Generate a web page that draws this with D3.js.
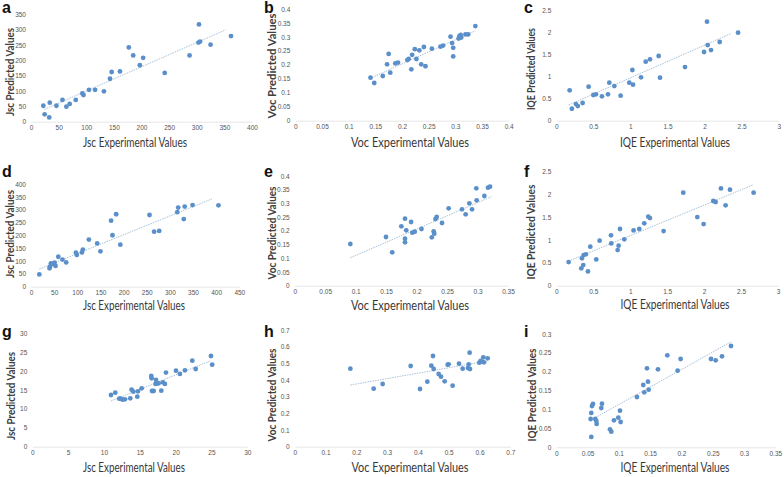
<!DOCTYPE html>
<html><head><meta charset="utf-8">
<script src="https://cdn.jsdelivr.net/npm/d3@7"></script>
<style>body{margin:0;background:#fff}svg{display:block}</style>
</head><body>
<script>
// ---------- DATA ----------
const aX=[22.3,24.7,33,34,46,57,64,70,81,93,95,105,116,132,143,146,161,177,185,197,203,242,287,303,304,306,325,362];
const aY=[52,24,14,62,52,71,49,58,71,92,87,104,104,99,140,162,164,242,216,184,208,159,216,258,317,261,251,279];
const aTrendX=[24,352], aTrendY=[40,299];
const aXTicks=[0,50,100,150,200,250,300,350,400], aYTicks=[0,50,100,150,200,250,300,350];

const bX=[0.141,0.148,0.164,0.172,0.175,0.178,0.1875,0.1925,0.21,0.2125,0.2175,0.219,0.224,0.227,0.2325,0.236,0.241,0.244,0.256,0.272,0.277,0.291,0.294,0.296,0.296,0.306,0.3075,0.31,0.311,0.319,0.324,0.3375];
const bY=[0.154,0.135,0.160,0.202,0.239,0.172,0.205,0.208,0.217,0.221,0.184,0.236,0.256,0.221,0.252,0.202,0.264,0.195,0.258,0.265,0.269,0.301,0.278,0.261,0.230,0.294,0.303,0.307,0.298,0.309,0.309,0.339];
const bTrendX=[0.144,0.3375], bTrendY=[0.155,0.322];
const bXTicks=[0,0.05,0.1,0.15,0.2,0.25,0.3,0.35,0.4], bYTicks=[0,0.05,0.1,0.15,0.2,0.25,0.3,0.35,0.4];

const cX=[0.18,0.21,0.265,0.29,0.355,0.436,0.50,0.535,0.616,0.697,0.715,0.783,0.868,0.985,1.026,1.035,1.143,1.206,1.264,1.381,1.399,1.736,1.993,2.033,2.042,2.087,2.204,2.452];
const cY=[0.685,0.27,0.376,0.33,0.40,0.768,0.58,0.595,0.55,0.595,0.858,0.783,0.565,0.858,1.145,0.813,0.979,1.333,1.386,1.461,0.971,1.212,1.551,2.236,1.709,1.596,1.777,1.988];
const cTrendX=[0.166,2.362], cTrendY=[0.354,1.973];
const cXTicks=[0,0.5,1,1.5,2,2.5,3], cYTicks=[0,0.5,1,1.5,2,2.5];

const dX=[18,40,41,43,47,51,53,59,68,76,97,99,110,112,125,143,150,173,176,184,193,256,266,277,316,318,330,332,349,405];
const dY=[48,72,78,91,89,94,81,117,106,95,133,124,134,145,184,169,138,258,201,283,164,280,215,218,291,309,264,313,319,318];
const dTrendX=[18,391], dTrendY=[69,343];
const dXTicks=[0,50,100,150,200,250,300,350,400,450], dYTicks=[0,50,100,150,200,250,300,350,400];

const eX=[0.0913,0.1498,0.160,0.175,0.181,0.181,0.181,0.183,0.191,0.193,0.197,0.208,0.225,0.228,0.229,0.231,0.233,0.2417,0.2526,0.2745,0.2805,0.2866,0.291,0.298,0.2986,0.3112,0.3172,0.3205];
const eY=[0.152,0.1775,0.1216,0.2164,0.2444,0.1714,0.158,0.2018,0.2322,0.1933,0.197,0.2067,0.1763,0.198,0.1897,0.243,0.2505,0.2286,0.282,0.2784,0.2602,0.3003,0.2784,0.355,0.3112,0.327,0.3574,0.3611];
const eTrendX=[0.0913,0.3227], eTrendY=[0.102,0.3246];
const eXTicks=[0,0.05,0.1,0.15,0.2,0.25,0.3,0.35], eYTicks=[0,0.05,0.1,0.15,0.2,0.25,0.3,0.35,0.4];

const fX=[0.167,0.338,0.347,0.365,0.37,0.40,0.428,0.46,0.541,0.586,0.74,0.744,0.83,0.843,0.862,0.92,1.046,1.123,1.19,1.245,1.267,1.452,1.718,1.908,1.994,2.124,2.156,2.228,2.291,2.35,2.67];
const fY=[0.519,0.38,0.60,0.453,0.672,0.687,0.314,0.855,0.577,0.987,1.104,0.928,0.782,0.877,1.243,1.016,1.213,1.243,1.367,1.513,1.484,1.199,2.04,1.506,1.352,1.857,1.835,2.134,1.762,2.105,2.04];
const fTrendX=[0.167,2.67], fTrendY=[0.541,2.215];
const fXTicks=[0,0.5,1,1.5,2,2.5,3], fYTicks=[0,0.5,1,1.5,2,2.5];

const gX=[10.98,11.58,12.14,12.33,12.6,12.93,13.67,13.86,14.1,14.65,14.74,15.26,16.6,16.65,16.7,16.93,17.2,17.26,17.44,17.63,18.0,18.23,18.5,18.65,20.05,20.6,21.3,22.33,22.8,24.93,25.1];
const gY=[13.68,14.3,12.7,12.7,12.44,12.53,12.8,15.09,14.56,13.24,14.65,15.45,18.7,18.1,14.74,14.74,16.6,17.65,16.77,16.77,14.83,17.03,16.6,19.6,20.1,19.24,20.2,22.77,20.56,24.0,21.7];
const gTrendX=[10.98,24.93], gTrendY=[12.09,22.77];
const gXTicks=[0,5,10,15,20,25,30], gYTicks=[0,5,10,15,20,25,30];

const hX=[0.1807,0.2564,0.2856,0.3765,0.4068,0.4306,0.4436,0.449,0.4512,0.4674,0.475,0.4869,0.4966,0.4998,0.5128,0.5334,0.5453,0.5626,0.5648,0.568,0.5691,0.5994,0.6037,0.608,0.6124,0.6145,0.6264];
const hY=[0.468,0.348,0.376,0.484,0.346,0.39,0.486,0.544,0.466,0.436,0.42,0.392,0.492,0.494,0.366,0.498,0.468,0.472,0.494,0.564,0.466,0.504,0.514,0.51,0.536,0.506,0.53];
const hTrendX=[0.1807,0.6253], hTrendY=[0.37,0.514];
const hXTicks=[0,0.1,0.2,0.3,0.4,0.5,0.6,0.7], hYTicks=[0,0.1,0.2,0.3,0.4,0.5,0.6,0.7];

const iX=[0.0549,0.0559,0.0559,0.057,0.0586,0.0623,0.0639,0.0645,0.0719,0.073,0.0858,0.0879,0.0922,0.0991,0.1018,0.1028,0.1289,0.139,0.1406,0.1449,0.1465,0.1476,0.1625,0.1774,0.1939,0.1987,0.2472,0.2547,0.2648,0.2792];
const iY=[0.075,0.0274,0.0909,0.1094,0.1147,0.075,0.0697,0.0618,0.1041,0.1156,0.0476,0.0415,0.0715,0.0785,0.097,0.067,0.1332,0.165,0.1456,0.2091,0.1738,0.1526,0.2065,0.2435,0.203,0.2338,0.2338,0.2303,0.2409,0.2682];
const iTrendX=[0.0623,0.2797], iTrendY=[0.0785,0.2797];
const iXTicks=[0,0.05,0.1,0.15,0.2,0.25,0.3,0.35], iYTicks=[0,0.05,0.1,0.15,0.2,0.25,0.3];

const letters=["a","b","c","d","e","f","g","h","i"];
const xTitles=["Jsc Experimental Values","Voc Experimental Values","IQE Experimental Values"];
const yTitles=["Jsc Predicted Values","Voc Predicted Values","IQE Predicted Values"];

// ---------- LAYOUT (pixel frames, separate from data) ----------
const frames=[
 {x0:31,x1:252,y0:121.7,y1:14.3, xt:[135,147,104], yt:[9,72,88], lt:[2,13]},
 {x0:295.3,x1:508.7,y0:120.7,y1:9, xt:[410,147,118], yt:[271,66,105], lt:[264,13]},
 {x0:556.3,x1:778.7,y0:120.7,y1:10, xt:[675,147,110], yt:[530,69,82], lt:[524,13]},
 {x0:31,x1:239.3,y0:286.7,y1:184.3, xt:[134,310,102], yt:[9,234,88], lt:[2,177]},
 {x0:294.7,x1:508,y0:285.7,y1:176, xt:[410,310,118], yt:[271,233,93], lt:[264,177]},
 {x0:556.3,x1:778,y0:285.7,y1:171.7, xt:[675,309,109], yt:[530,232,95], lt:[524,177]},
 {x0:32.3,x1:247.3,y0:446.7,y1:333.3, xt:[134,472,102], yt:[10,396,88], lt:[2,337]},
 {x0:294.7,x1:510.3,y0:446.7,y1:330, xt:[410,472,117], yt:[271,395,93], lt:[264,337]},
 {x0:556.3,x1:775.3,y0:447.3,y1:334, xt:[675,472,109], yt:[531,395,93], lt:[524,337]}
];

const panels=[
 {x:aX,y:aY,tx:aTrendX,ty:aTrendY,xt:aXTicks,yt:aYTicks},
 {x:bX,y:bY,tx:bTrendX,ty:bTrendY,xt:bXTicks,yt:bYTicks},
 {x:cX,y:cY,tx:cTrendX,ty:cTrendY,xt:cXTicks,yt:cYTicks},
 {x:dX,y:dY,tx:dTrendX,ty:dTrendY,xt:dXTicks,yt:dYTicks},
 {x:eX,y:eY,tx:eTrendX,ty:eTrendY,xt:eXTicks,yt:eYTicks},
 {x:fX,y:fY,tx:fTrendX,ty:fTrendY,xt:fXTicks,yt:fYTicks},
 {x:gX,y:gY,tx:gTrendX,ty:gTrendY,xt:gXTicks,yt:gYTicks},
 {x:hX,y:hY,tx:hTrendX,ty:hTrendY,xt:hXTicks,yt:hYTicks},
 {x:iX,y:iY,tx:iTrendX,ty:iTrendY,xt:iXTicks,yt:iYTicks}
];

const svg=d3.select("body").append("svg").attr("width",784).attr("height",477);
const fontT="Lato, 'Open Sans', sans-serif";
const dotColor="#5b8fc9";

panels.forEach((p,k)=>{
  const fr=frames[k];
  const col=k%3;
  const xs=d3.scaleLinear().domain([0,d3.max(p.xt)]).range([fr.x0,fr.x1]);
  const ys=d3.scaleLinear().domain([0,d3.max(p.yt)]).range([fr.y0,fr.y1]);
  const g=svg.append("g");
  const fmt=v=>String(+v.toFixed(3));

  const xa=g.append("g").attr("transform",`translate(0,${fr.y0})`)
    .call(d3.axisBottom(xs).tickValues(p.xt).tickFormat(fmt).tickSize(0).tickPadding(4));
  xa.select(".domain").attr("stroke","#e6e6e6");
  xa.selectAll("text").attr("font-family","'Liberation Sans',Arial,sans-serif").attr("font-size",6.5).attr("fill","#555");
  const ya=g.append("g").attr("transform",`translate(${fr.x0},0)`)
    .call(d3.axisLeft(ys).tickValues(p.yt).tickFormat(fmt).tickSize(0).tickPadding(5));
  ya.select(".domain").remove();
  ya.selectAll("text").attr("font-family","'Liberation Sans',Arial,sans-serif").attr("font-size",6.5).attr("fill","#555");

  g.append("line")
    .attr("x1",xs(p.tx[0])).attr("y1",ys(p.ty[0]))
    .attr("x2",xs(p.tx[1])).attr("y2",ys(p.ty[1]))
    .attr("stroke","#a9c2da").attr("stroke-width",1).attr("stroke-dasharray","1.5,1");

  g.selectAll("circle").data(p.x.map((v,i)=>[v,p.y[i]])).join("circle")
    .attr("cx",d=>xs(d[0])).attr("cy",d=>ys(d[1])).attr("r",2.4).attr("fill",dotColor);

  g.append("text").attr("x",fr.xt[0]).attr("y",fr.xt[1]).attr("text-anchor","middle")
    .attr("font-family",fontT).attr("font-size",13).attr("fill","#383838")
    .attr("textLength",fr.xt[2]).attr("lengthAdjust","spacingAndGlyphs").text(xTitles[col]);
  g.append("text").attr("transform",`translate(${fr.yt[0]+4.5},${fr.yt[1]}) rotate(-90)`).attr("text-anchor","middle")
    .attr("font-family",fontT).attr("font-size",12).attr("font-weight","bold").attr("fill","#404040")
    .attr("textLength",fr.yt[2]).attr("lengthAdjust","spacingAndGlyphs").text(yTitles[col]);
  g.append("text").attr("x",fr.lt[0]).attr("y",fr.lt[1]).attr("font-family","'Liberation Sans',Arial,sans-serif")
    .attr("font-size",16).attr("font-weight","bold").attr("fill","#111").text(letters[k]);
});
</script>
</body></html>
